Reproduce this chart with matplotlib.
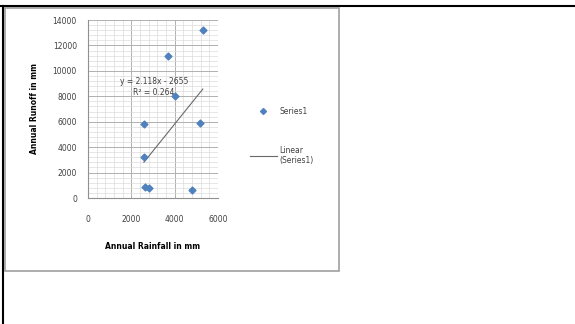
import numpy as np
import matplotlib.pyplot as plt
from matplotlib.ticker import MultipleLocator
from matplotlib.patches import Rectangle
from matplotlib.lines import Line2D

# Annual rainfall vs runoff (mm)
rainfall = [2600, 2580, 2650, 2800, 3700, 4030, 5150, 5300, 4800]
runoff = [5800, 3200, 900, 800, 11200, 8000, 5900, 13200, 600]

# fitted trend line as printed on the chart
slope = 2.118
intercept = -2655
r_squared = 0.264

fig = plt.figure(figsize=(5.75, 3.24), dpi=100)
fig.patch.set_facecolor('white')

# outer page edges and chart frame
fig.add_artist(Line2D([0, 1], [1 - 6/324, 1 - 6/324], color='black', lw=1.5))
fig.add_artist(Line2D([3/575, 3/575], [0, 1 - 6/324], color='black', lw=1.5))
fig.add_artist(Rectangle((5/575, 1 - 271/324), 334/575, 263/324, fill=False,
                         edgecolor='#a0a0a0', lw=1.2))

ax = fig.add_axes([88/575, 1 - 198/324, 130/575, 178/324])
ax.scatter(rainfall, runoff, marker='D', s=12, color='#4F81BD', zorder=3)

xfit = np.array([min(rainfall), max(rainfall)])
ax.plot(xfit, slope * xfit + intercept, color='#6a6a6a', lw=0.8, zorder=2)

ax.set_xlim(0, 6000)
ax.set_ylim(0, 14000)
ax.xaxis.set_major_locator(MultipleLocator(2000))
ax.yaxis.set_major_locator(MultipleLocator(2000))
ax.xaxis.set_minor_locator(MultipleLocator(400))
ax.yaxis.set_minor_locator(MultipleLocator(400))
ax.grid(which='major', color='#b0b0b0', lw=0.7)
ax.grid(which='minor', color='#dcdcdc', lw=0.5)
ax.set_axisbelow(True)
ax.tick_params(which='both', length=0, labelsize=5.5, colors='#404040')
ax.tick_params(axis='x', pad=12)
ax.tick_params(axis='y', pad=8)
for side in ['top', 'right']:
    ax.spines[side].set_visible(False)
for side in ['left', 'bottom']:
    ax.spines[side].set_color('#909090')
    ax.spines[side].set_linewidth(0.8)

ax.set_xlabel('Annual Rainfall in mm', fontsize=5.5, fontweight='bold', labelpad=13)
ax.set_ylabel('Annual Runoff in mm', fontsize=5.5, fontweight='bold', labelpad=10)

ax.text(3050, 7950, f'y = {slope}x - {abs(intercept)}\nR² = {r_squared}',
        fontsize=5.5, color='#404040', ha='center', va='bottom',
        multialignment='center', linespacing=1.3)

# legend
leg_handles = [
    Line2D([], [], marker='D', ls='none', color='#4F81BD', ms=3),
    Line2D([], [], color='#6a6a6a', lw=0.8),
]
fig.legend(leg_handles, ['Series1', 'Linear\n(Series1)'], loc='upper left',
           bbox_to_anchor=(250/575, 1 - 107/324), fontsize=5.5, frameon=False,
           borderpad=0, borderaxespad=0, handlelength=3.5, handletextpad=0.3,
           labelspacing=3.9, labelcolor='#404040')

fig.savefig('out.png', dpi=100)
